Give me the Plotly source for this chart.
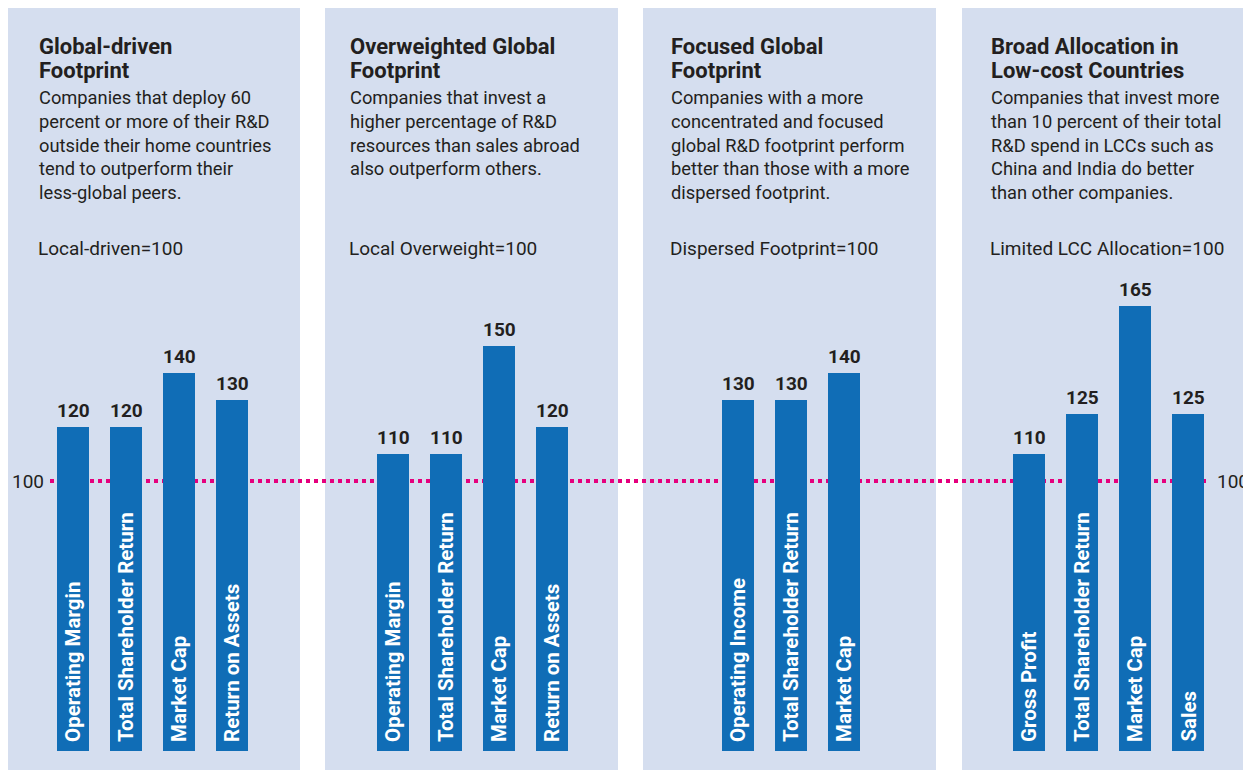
import plotly.graph_objects as go

W, H = 1243, 770
FONT = "Roboto, 'Noto Sans', sans-serif"
PANEL_BG = "#d5deef"
BAR = "#106db6"
MAGENTA = "#e5007d"
INK = "#231f20"

# panel texts
TITLES = [["Global-driven", "Footprint"], ["Overweighted Global", "Footprint"],
          ["Focused Global", "Footprint"], ["Broad Allocation in", "Low-cost Countries"]]
DESCS = [
    "Companies that deploy 60<br>percent or more of their R&D<br>outside their home countries<br>tend to outperform their<br>less-global peers.",
    "Companies that invest a<br>higher percentage of R&D<br>resources than sales abroad<br>also outperform others.",
    "Companies with a more<br>concentrated and focused<br>global R&D footprint perform<br>better than those with a more<br>dispersed footprint.",
    "Companies that invest more<br>than 10 percent of their total<br>R&D spend in LCCs such as<br>China and India do better<br>than other companies.",
]
BASELINES = ["Local-driven=100", "Local Overweight=100",
             "Dispersed Footprint=100", "Limited LCC Allocation=100"]

# bar data
CATS_1 = ["Operating Margin", "Total Shareholder Return", "Market Cap", "Return on Assets"]
VALS_1 = [120, 120, 140, 130]
CATS_2 = ["Operating Margin", "Total Shareholder Return", "Market Cap", "Return on Assets"]
VALS_2 = [110, 110, 150, 120]
CATS_3 = ["Operating Income", "Total Shareholder Return", "Market Cap"]
VALS_3 = [130, 130, 140]
CATS_4 = ["Gross Profit", "Total Shareholder Return", "Market Cap", "Sales"]
VALS_4 = [110, 125, 165, 125]
BASE_VALUE = 100

# layout geometry (screen pixels): panel left/right, first bar centre, text left
PANELS = [(8, 300, 73, 39), (325, 618, 393, 350), (643, 936, 738, 671), (962, 1243, 1029, 991)]
PITCH = 53
PX_PER_UNIT = 2.7
Y0_PX = 751  # pixel row of value 0


def px(x):
    return x / W


def py(y):
    return 1 - y / H


ymin = -(H - Y0_PX) / PX_PER_UNIT
ymax = ymin + H / PX_PER_UNIT

fig = go.Figure()
data = [(CATS_1, VALS_1), (CATS_2, VALS_2), (CATS_3, VALS_3), (CATS_4, VALS_4)]
shapes, annotations = [], []
layout_axes = {}

for i, ((cats, vals), (left, right, c0, tx)) in enumerate(zip(data, PANELS)):
    xa = "x" if i == 0 else f"x{i + 1}"
    key = "xaxis" if i == 0 else f"xaxis{i + 1}"
    fig.add_trace(go.Bar(x=cats, y=vals, xaxis=xa, yaxis="y", width=32 / PITCH,
                         marker=dict(color=BAR, line=dict(width=0)),
                         showlegend=False, hoverinfo="x+y"))
    layout_axes[key] = dict(domain=[px(left), px(right)], anchor="y", type="category",
                            range=[(left - c0) / PITCH, (right - c0) / PITCH],
                            visible=False, fixedrange=True)
    shapes.append(dict(type="rect", xref="paper", yref="paper", layer="below",
                       x0=px(left), x1=px(right), y0=0, y1=py(8),
                       fillcolor=PANEL_BG, line=dict(width=0)))
    for c, v in zip(cats, vals):
        annotations.append(dict(x=c, y=v, xref=xa, yref="y", text=f"<b>{v}</b>",
                                showarrow=False, yanchor="bottom", yshift=3,
                                font=dict(size=19, color=INK, family=FONT)))
        annotations.append(dict(x=c, y=0, xref=xa, yref="y", text=f"<b>{c}</b>",
                                showarrow=False, textangle=-90, yanchor="bottom",
                                xanchor="center", yshift=7,
                                font=dict(size=20.5, color="white", family=FONT)))
    for line_y, line in zip((47, 71), TITLES[i]):
        annotations.append(dict(x=px(tx - 2), y=py(line_y), xref="paper", yref="paper",
                                text=f"<b>{line}</b>", showarrow=False, align="left",
                                xanchor="left", yanchor="middle",
                                font=dict(size=22, color=INK, family=FONT)))
    annotations.append(dict(x=px(tx - 2), y=py(85), xref="paper", yref="paper",
                            text=DESCS[i], showarrow=False, align="left",
                            xanchor="left", yanchor="top",
                            font=dict(size=18.3, color=INK, family=FONT)))
    annotations.append(dict(x=px(tx - 3), y=py(248), xref="paper", yref="paper",
                            text=BASELINES[i], showarrow=False, align="left",
                            xanchor="left", yanchor="middle",
                            font=dict(size=19, color=INK, family=FONT)))

# dotted 100 reference line across all panels
shapes.append(dict(type="line", xref="paper", yref="y", layer="below",
                   x0=px(50), x1=px(1207), y0=BASE_VALUE, y1=BASE_VALUE,
                   line=dict(color=MAGENTA, width=4, dash="4px,4px")))
annotations.append(dict(x=px(46), y=BASE_VALUE, xref="paper", yref="y", text=str(BASE_VALUE),
                        showarrow=False, xanchor="right", yanchor="middle",
                        font=dict(size=19, color=INK, family=FONT)))
annotations.append(dict(x=px(1215), y=BASE_VALUE, xref="paper", yref="y", text=str(BASE_VALUE),
                        showarrow=False, xanchor="left", yanchor="middle",
                        font=dict(size=19, color=INK, family=FONT)))

fig.update_layout(
    width=W, height=H, margin=dict(l=0, r=0, t=0, b=0),
    paper_bgcolor="white", plot_bgcolor="rgba(0,0,0,0)",
    yaxis=dict(domain=[0, 1], range=[ymin, ymax], visible=False, fixedrange=True),
    shapes=shapes, annotations=annotations, bargap=0,
    font=dict(family=FONT, color=INK),
    **layout_axes,
)
# full-bleed page: drop the default body margin and scrollbars, hide the modebar
fig.write_html("out.html", config={"displayModeBar": False},
               post_script="document.body.style.margin='0';document.body.style.overflow='hidden';")
